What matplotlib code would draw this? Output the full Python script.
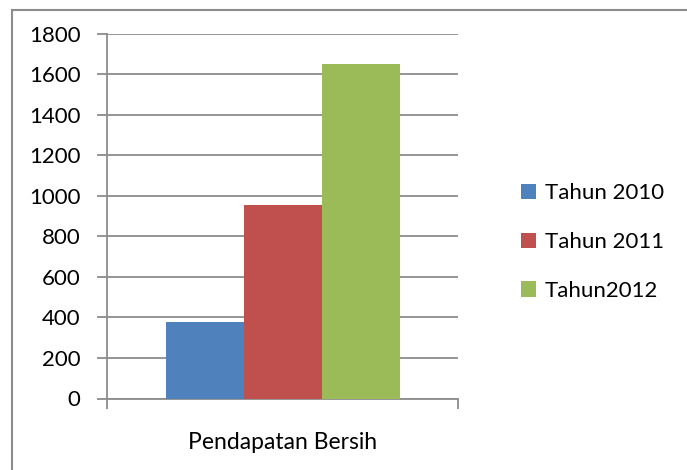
import matplotlib.pyplot as plt
import numpy as np

plt.rcParams['font.family'] = ['Lato', 'DejaVu Sans']

category = "Pendapatan Bersih"
series = ["Tahun 2010", "Tahun 2011", "Tahun2012"]
values = [375, 955, 1650]
colors = ["#4F81BD", "#C0504D", "#9BBB59"]

gridcol = "#8c8c8c"
fs = 16

fig = plt.figure(figsize=(6.87, 4.70), dpi=100)
ax = fig.add_axes([107 / 687, 71.5 / 470, 351 / 687, 365 / 470])

offsets = np.arange(len(series)) - (len(series) - 1) / 2
for off, val, col, name in zip(offsets, values, colors, series):
    ax.bar(off, val, width=1.0, color=col, label=name, zorder=3)

ax.set_xlim(-2.25, 2.25)
ax.set_ylim(0, 1800)
ax.set_yticks(np.arange(0, 1801, 200))
ax.yaxis.grid(True, color=gridcol, linewidth=1.3, zorder=0)
ax.tick_params(axis='y', length=7, width=1.3, color=gridcol, labelsize=fs, pad=12)

ax.set_xticks([0])
ax.set_xticklabels([category])
ax.tick_params(axis='x', length=0, labelsize=fs + 0.5, pad=24)
ax.set_xticks([-2.25, 2.25], minor=True)
ax.tick_params(axis='x', which='minor', length=7, width=1.3, color=gridcol)

for s in ['top', 'right']:
    ax.spines[s].set_visible(False)
for s in ['left', 'bottom']:
    ax.spines[s].set_color(gridcol)
    ax.spines[s].set_linewidth(1.3)

# outer chart border (top and left edges visible)
fig.add_artist(plt.Line2D([12 / 687, 1.0], [1 - 10 / 470, 1 - 10 / 470],
                          transform=fig.transFigure, color="#8c8c8c", linewidth=1.5))
fig.add_artist(plt.Line2D([12 / 687, 12 / 687], [0, 1 - 10 / 470],
                          transform=fig.transFigure, color="#8c8c8c", linewidth=1.5))

leg = ax.legend(loc='center left', bbox_to_anchor=(521 / 687, 1 - 242 / 470),
                bbox_transform=fig.transFigure, frameon=False, fontsize=fs,
                handlelength=0.68, handleheight=0.68, handletextpad=0.4,
                labelspacing=1.3, borderaxespad=0, borderpad=0)

fig.savefig("out.png", dpi=100)
